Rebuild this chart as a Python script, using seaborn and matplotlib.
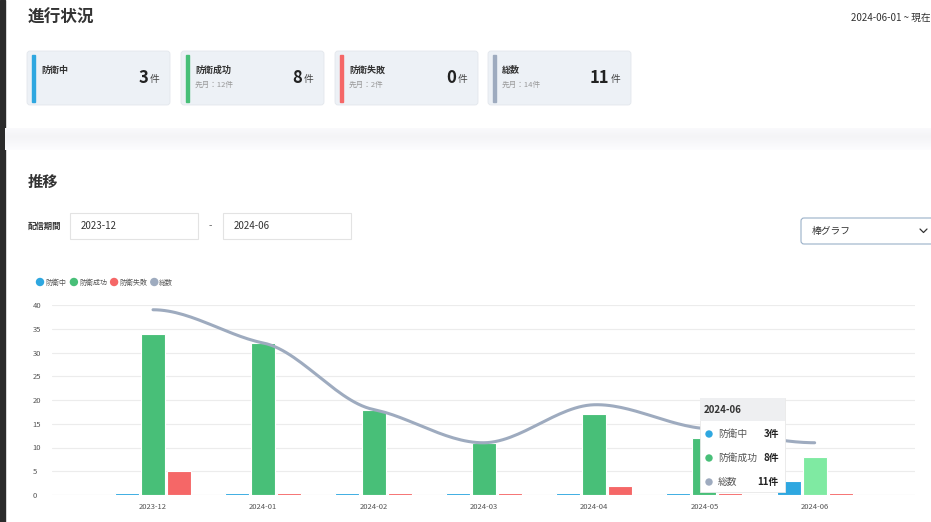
import numpy as np
import pandas as pd
import seaborn as sns
import matplotlib
matplotlib.use("Agg")
import matplotlib.pyplot as plt
from matplotlib.patches import Rectangle, FancyBboxPatch, Circle

months = ["2023-12", "2024-01", "2024-02", "2024-03", "2024-04", "2024-05", "2024-06"]
defending = [0, 0, 0, 0, 0, 0, 3]
success = [34, 32, 18, 11, 17, 12, 8]
failure = [5, 0, 0, 0, 2, 0, 0]
total = [39, 32, 18, 11, 19, 14, 11]

series_names = ["防衛中", "防衛成功", "防衛失敗"]
colors = {"防衛中": "#2ea7e0", "防衛成功": "#48bf78", "防衛失敗": "#f56767", "総数": "#9eabbf"}

card_titles = ["防衛中", "防衛成功", "防衛失敗", "総数"]
card_values = ["3", "8", "0", "11"]
card_prev = ["", "先月：12件", "先月：2件", "先月：14件"]
card_x = [27, 181, 335, 488]

tooltip_rows = [("防衛中", "3件"), ("防衛成功", "8件"), ("総数", "11件")]

MIN_BAR = 0.5  # echarts-like minimum bar height for zero values

sns.set_theme(style="white")
plt.rcParams["font.family"] = ["Noto Sans CJK JP", "DejaVu Sans"]

W, H = 931, 522
fig = plt.figure(figsize=(W / 100, H / 100), dpi=100)
fig.patch.set_facecolor("white")

# background overlay in pixel coordinates
bg = fig.add_axes([0, 0, 1, 1], zorder=0)
bg.set_xlim(0, W)
bg.set_ylim(H, 0)
bg.axis("off")
bg.add_patch(Rectangle((0, 0), 5, H, color="#2b2b2b"))
for k in range(22):
    shade = 0.955 + 0.035 * abs(k - 8) / 14
    bg.add_patch(Rectangle((5, 128 + k), W, 1, color=(shade, shade, min(1, shade + 0.01)), lw=0))
bg.text(28, 18, "進行状況", fontsize=12, fontweight="bold", color="#333", va="center")
bg.text(851, 18, "2024-06-01 ~ 現在", fontsize=7, color="#333", va="center")

for i, x in enumerate(card_x):
    bg.add_patch(FancyBboxPatch((x, 51), 143, 54, boxstyle="round,pad=0,rounding_size=3",
                                fc="#edf1f6", ec="#e3e7ec", lw=0.6))
    bg.add_patch(Rectangle((x + 5, 55), 2.5, 47, color=colors[card_titles[i]]))
    bg.text(x + 14, 70, card_titles[i], fontsize=6.5, fontweight="bold", color="#333", va="center")
    bg.text(x + 121, 78, card_values[i], fontsize=12, fontweight="bold", color="#222",
            va="center", ha="right")
    bg.text(x + 123, 79, "件", fontsize=7, color="#444", va="center")
    if card_prev[i]:
        bg.text(x + 14, 85, card_prev[i], fontsize=5.5, color="#999", va="center")

bg.text(28, 182, "推移", fontsize=11, fontweight="bold", color="#333", va="center")
bg.text(28, 226, "配信期間", fontsize=6, fontweight="bold", color="#333", va="center")
for x0, label in [(70, "2023-12"), (223, "2024-06")]:
    bg.add_patch(Rectangle((x0, 213), 128, 26, fc="white", ec="#e3e3e3", lw=0.8))
    bg.text(x0 + 11, 226, label, fontsize=7, color="#333", va="center")
bg.text(210, 226, "-", fontsize=7, color="#666", va="center", ha="center")
bg.add_patch(FancyBboxPatch((801, 218), 140, 26, boxstyle="round,pad=0,rounding_size=3",
                            fc="white", ec="#9ab0c8", lw=0.8))
bg.text(812, 231, "棒グラフ", fontsize=7, color="#333", va="center")
bg.plot([920, 923.5, 927], [229, 232.5, 229], color="#333", lw=0.9)

# legend
lx = 40
for name in series_names + ["総数"]:
    bg.add_patch(Circle((lx, 282), 3.5, color=colors[name]))
    bg.text(lx + 5, 282.5, name, fontsize=5, color="#555", va="center")
    lx += 9 + 6.3 * len(name) + 6

# chart
ax = fig.add_axes([52 / W, 27 / H, 863 / W, 190 / H], zorder=1)
ax.patch.set_alpha(0)
long = pd.DataFrame({
    "month": months * 3,
    "series": sum([[s] * len(months) for s in series_names], []),
    "value": defending + success + failure,
})
long["shown"] = np.maximum(long["value"], MIN_BAR)
sns.barplot(data=long, x="month", y="shown", hue="series", hue_order=series_names,
            palette=colors, saturation=1, width=0.71, gap=0.08, ax=ax, legend=False,
            edgecolor="white", linewidth=0.8)
# hover highlight on the last green bar
for p in ax.patches:
    cx = p.get_x() + p.get_width() / 2
    if abs(cx - 6) < 0.05 and p.get_height() > 5:
        p.set_facecolor("#7feaa2")

# smooth total line (cubic Hermite, softened tangents)
xs = np.arange(len(total), dtype=float)
ys = np.array(total, dtype=float)
m = np.gradient(ys) * 0.45
m[0] = m[-1] = 0
px, py = [], []
for i in range(len(xs) - 1):
    t = np.linspace(0, 1, 30)
    h00 = 2 * t**3 - 3 * t**2 + 1
    h10 = t**3 - 2 * t**2 + t
    h01 = -2 * t**3 + 3 * t**2
    h11 = t**3 - t**2
    px.extend(xs[i] + t)
    py.extend(h00 * ys[i] + h10 * m[i] + h01 * ys[i + 1] + h11 * m[i + 1])
sns.lineplot(x=px, y=py, color=colors["総数"], lw=2.2, ax=ax, sort=False)

ax.set_xlim(-0.916, 6.91)
ax.set_ylim(0, 40)
ax.set_yticks(range(0, 41, 5))
ax.grid(axis="y", color="#ececec", lw=0.8)
ax.set_axisbelow(True)
for s in ax.spines.values():
    s.set_visible(False)
ax.axhline(0, color="#dcdcdc", lw=0.8, zorder=0)
ax.set_xlabel("")
ax.set_ylabel("")
ax.tick_params(axis="both", labelsize=5.5, colors="#555", length=0, pad=4)
ax.tick_params(axis="x", length=3, color="#dcdcdc", pad=3)
ax.tick_params(axis="y", pad=14)
for lab in ax.get_yticklabels():
    lab.set_horizontalalignment("left")

# tooltip overlay
top = fig.add_axes([0, 0, 1, 1], zorder=3)
top.set_xlim(0, W)
top.set_ylim(H, 0)
top.axis("off")
top.add_patch(Rectangle((700, 398), 85, 94, fc="white", ec="#e8e8e8", lw=0.6))
top.add_patch(Rectangle((700, 398), 85, 23, fc="#eeeff1", ec="none"))
top.text(704, 410, "2024-06", fontsize=7, fontweight="bold", color="#333", va="center")
for k, (name, val) in enumerate(tooltip_rows):
    y = 434 + k * 24
    top.add_patch(Circle((709, y), 3, color=colors[name]))
    top.text(718, y, name, fontsize=7, color="#555", va="center")
    top.text(779, y, val, fontsize=7, fontweight="bold", color="#222", va="center", ha="right")

fig.savefig("out.png", dpi=100)
